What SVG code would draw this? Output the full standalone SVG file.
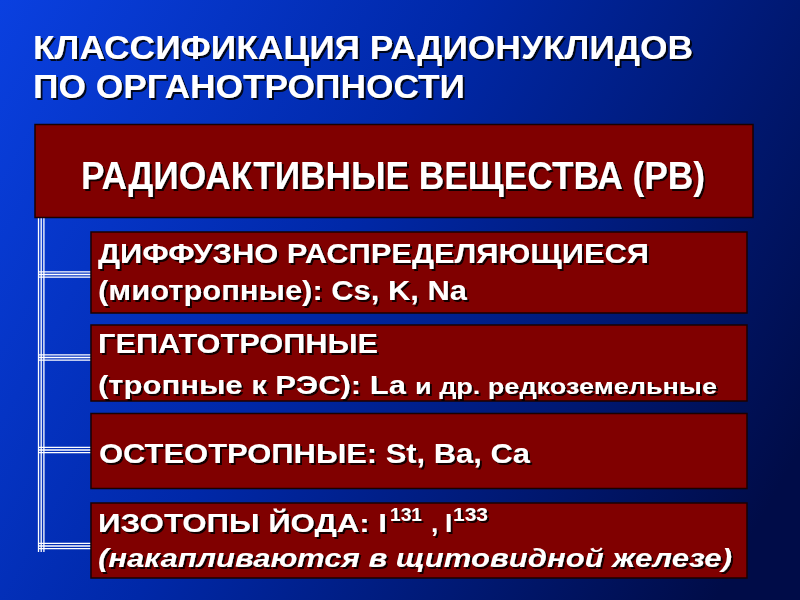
<svg xmlns="http://www.w3.org/2000/svg" width="800" height="600" viewBox="0 0 800 600">
  <defs>
    <linearGradient id="bg" gradientUnits="userSpaceOnUse" x1="0" y1="0" x2="800" y2="450">
      <stop offset="0" stop-color="#0a40e0"/>
      <stop offset="0.45" stop-color="#0028a8"/>
      <stop offset="1" stop-color="#000c48"/>
    </linearGradient>
    <filter id="sh" x="-5%" y="-20%" width="110%" height="150%">
      <feDropShadow dx="2" dy="2" stdDeviation="0.6" flood-color="#000" flood-opacity="0.85"/>
    </filter>
    <style>
      .box { fill: #800000; stroke: #1a0000; stroke-width: 1.5; }
      .t { fill: #ffffff; font-family: "Liberation Sans Narrow", "Liberation Sans", Arial, sans-serif; font-weight: bold; filter: url(#sh); }
      .ln { stroke: #ffffff; stroke-width: 1.3; fill: none; }
    </style>
  </defs>
  <rect x="0" y="0" width="800" height="600" fill="url(#bg)"/>

  <g id="title">
    <text class="t" x="33" y="59" font-size="34" textLength="660" lengthAdjust="spacingAndGlyphs">КЛАССИФИКАЦИЯ РАДИОНУКЛИДОВ</text>
    <text class="t" x="33" y="98" font-size="34" textLength="432" lengthAdjust="spacingAndGlyphs">ПО ОРГАНОТРОПНОСТИ</text>
  </g>

  <g id="connectors">
    <line class="ln" x1="38.5" y1="218" x2="38.5" y2="552"/>
    <line class="ln" x1="41.2" y1="218" x2="41.2" y2="552"/>
    <line class="ln" x1="43.9" y1="218" x2="43.9" y2="552"/>
    <g>
      <line class="ln" x1="38" y1="271.8" x2="91" y2="271.8"/>
      <line class="ln" x1="38" y1="274.5" x2="91" y2="274.5"/>
      <line class="ln" x1="38" y1="277.2" x2="91" y2="277.2"/>
    </g>
    <g>
      <line class="ln" x1="38" y1="354.8" x2="91" y2="354.8"/>
      <line class="ln" x1="38" y1="357.5" x2="91" y2="357.5"/>
      <line class="ln" x1="38" y1="360.2" x2="91" y2="360.2"/>
    </g>
    <g>
      <line class="ln" x1="38" y1="447.3" x2="91" y2="447.3"/>
      <line class="ln" x1="38" y1="450" x2="91" y2="450"/>
      <line class="ln" x1="38" y1="452.7" x2="91" y2="452.7"/>
    </g>
    <g>
      <line class="ln" x1="38" y1="543.3" x2="91" y2="543.3"/>
      <line class="ln" x1="38" y1="546" x2="91" y2="546"/>
      <line class="ln" x1="38" y1="548.7" x2="91" y2="548.7"/>
    </g>
  </g>

  <g id="node-root">
    <rect class="box" x="35" y="124.5" width="718" height="93"/>
    <text class="t" x="81" y="189" font-size="38" textLength="624" lengthAdjust="spacingAndGlyphs">РАДИОАКТИВНЫЕ ВЕЩЕСТВА (РВ)</text>
  </g>

  <g id="node-diffuse">
    <rect class="box" x="91" y="232" width="656" height="81"/>
    <text class="t" x="98" y="263" font-size="28" textLength="551" lengthAdjust="spacingAndGlyphs">ДИФФУЗНО РАСПРЕДЕЛЯЮЩИЕСЯ</text>
    <text class="t" x="98" y="300" font-size="28" textLength="369" lengthAdjust="spacingAndGlyphs">(миотропные):  Cs, K, Na</text>
  </g>

  <g id="node-hepato">
    <rect class="box" x="91" y="325" width="656" height="76"/>
    <text class="t" x="98" y="353" font-size="28" textLength="280" lengthAdjust="spacingAndGlyphs">ГЕПАТОТРОПНЫЕ</text>
    <text class="t" x="98" y="394" font-size="26" textLength="308" lengthAdjust="spacingAndGlyphs">(тропные  к РЭС): La</text>
    <text class="t" x="415" y="394" font-size="22" textLength="302" lengthAdjust="spacingAndGlyphs">и др. редкоземельные</text>
  </g>

  <g id="node-osteo">
    <rect class="box" x="91" y="413.5" width="656" height="75"/>
    <text class="t" x="99" y="463" font-size="28" textLength="431" lengthAdjust="spacingAndGlyphs">ОСТЕОТРОПНЫЕ: St, Ba, Ca</text>
  </g>

  <g id="node-iodine">
    <rect class="box" x="91" y="503" width="656" height="75"/>
    <text class="t" x="98" y="532" font-size="26" textLength="289" lengthAdjust="spacingAndGlyphs">ИЗОТОПЫ ЙОДА: I</text>
    <text class="t" x="390" y="521" font-size="18" textLength="32" lengthAdjust="spacingAndGlyphs">131</text>
    <text class="t" x="431" y="532" font-size="26">,</text>
    <text class="t" x="445" y="532" font-size="26">I</text>
    <text class="t" x="453" y="521" font-size="18" textLength="35" lengthAdjust="spacingAndGlyphs">133</text>
    <text class="t" x="98" y="567" font-size="26" font-style="italic" textLength="634" lengthAdjust="spacingAndGlyphs">(накапливаются в щитовидной железе)</text>
  </g>
</svg>
